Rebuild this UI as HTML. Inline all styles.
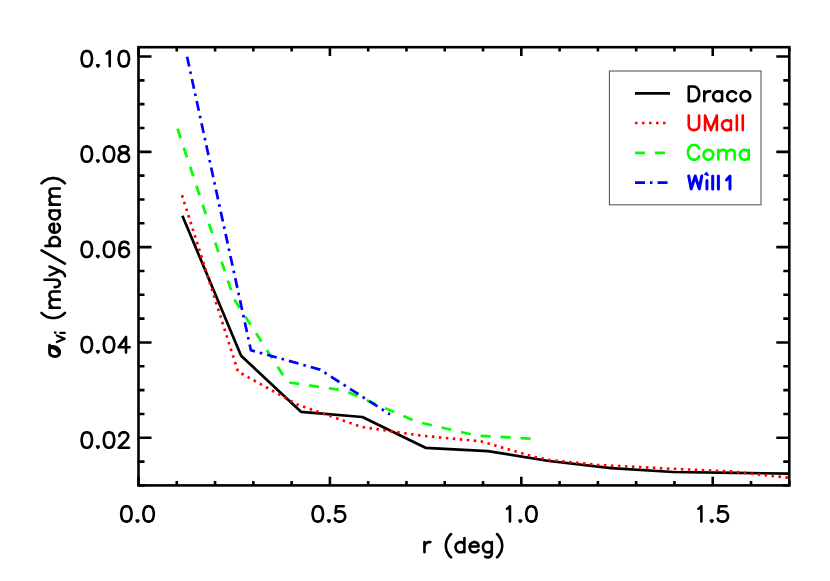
<!DOCTYPE html>
<html><head><meta charset="utf-8"><title>plot</title>
<style>html,body{margin:0;padding:0;background:#fff;font-family:"Liberation Sans",sans-serif;}svg{display:block}</style>
</head><body>
<svg width="830" height="581" viewBox="0 0 830 581">
<rect width="830" height="581" fill="#fff"/>
<path d="M138.50 485.40 V476.70 M138.50 47.20 V55.90 M176.78 485.40 V481.00 M176.78 47.20 V51.60 M215.06 485.40 V481.00 M215.06 47.20 V51.60 M253.35 485.40 V481.00 M253.35 47.20 V51.60 M291.63 485.40 V481.00 M291.63 47.20 V51.60 M329.91 485.40 V476.70 M329.91 47.20 V55.90 M368.19 485.40 V481.00 M368.19 47.20 V51.60 M406.48 485.40 V481.00 M406.48 47.20 V51.60 M444.76 485.40 V481.00 M444.76 47.20 V51.60 M483.04 485.40 V481.00 M483.04 47.20 V51.60 M521.32 485.40 V476.70 M521.32 47.20 V55.90 M559.61 485.40 V481.00 M559.61 47.20 V51.60 M597.89 485.40 V481.00 M597.89 47.20 V51.60 M636.17 485.40 V481.00 M636.17 47.20 V51.60 M674.45 485.40 V481.00 M674.45 47.20 V51.60 M712.74 485.40 V476.70 M712.74 47.20 V55.90 M751.02 485.40 V481.00 M751.02 47.20 V51.60 M789.30 485.40 V481.00 M789.30 47.20 V51.60 M138.50 485.46 H144.50 M789.30 485.46 H783.30 M138.50 461.63 H144.50 M789.30 461.63 H783.30 M138.50 437.80 H151.50 M789.30 437.80 H776.30 M138.50 413.97 H144.50 M789.30 413.97 H783.30 M138.50 390.14 H144.50 M789.30 390.14 H783.30 M138.50 366.31 H144.50 M789.30 366.31 H783.30 M138.50 342.48 H151.50 M789.30 342.48 H776.30 M138.50 318.64 H144.50 M789.30 318.64 H783.30 M138.50 294.81 H144.50 M789.30 294.81 H783.30 M138.50 270.98 H144.50 M789.30 270.98 H783.30 M138.50 247.15 H151.50 M789.30 247.15 H776.30 M138.50 223.32 H144.50 M789.30 223.32 H783.30 M138.50 199.49 H144.50 M789.30 199.49 H783.30 M138.50 175.66 H144.50 M789.30 175.66 H783.30 M138.50 151.83 H151.50 M789.30 151.83 H776.30 M138.50 127.99 H144.50 M789.30 127.99 H783.30 M138.50 104.16 H144.50 M789.30 104.16 H783.30 M138.50 80.33 H144.50 M789.30 80.33 H783.30 M138.50 56.50 H151.50 M789.30 56.50 H776.30" stroke="#000" stroke-width="2.6" fill="none"/>
<rect x="138.50" y="47.20" width="650.80" height="438.20" fill="none" stroke="#000" stroke-width="2.60"/>
<path d="M182.4 215.8 L241.1 355.7 L301.0 411.8 L362.4 417.0 L425.5 447.8 L487.7 451.1 L549.0 461.0 L611.0 468.1 L673.1 472.0 L735.0 472.9 L789.3 473.6" fill="none" stroke="#000" stroke-width="2.7" stroke-linejoin="round"/>
<path d="M182.0 195.2 L238.0 371.6 L297.3 404.5 L361.0 426.8 L421.0 435.6 L481.0 441.4 L534.9 457.0 L549.0 459.9 L597.0 464.9 L674.2 468.9 L731.0 471.4 L788.0 477.6" fill="none" stroke="#f00" stroke-width="2.7" stroke-linejoin="round" stroke-dasharray="2.5 4.5"/>
<path d="M177.5 128.8 L234.0 299.0 L287.7 382.3 L344.4 390.5 L415.8 421.5 L477.1 435.7 L531.1 438.6" fill="none" stroke="#0f0" stroke-width="2.7" stroke-linejoin="round" stroke-dasharray="10 10"/>
<path d="M187.0 56.5 L250.9 350.2 L320.0 369.6 L390.0 414.4" fill="none" stroke="#00f" stroke-width="2.7" stroke-linejoin="round" stroke-dasharray="10 5 2.55 5.1" stroke-dashoffset="-0.3"/>
<path d="M86.06 51.07 L83.84 51.80 L82.36 53.99 L81.62 57.64 L81.62 59.83 L82.36 63.48 L83.84 65.67 L86.06 66.40 L87.54 66.40 L89.76 65.67 L91.24 63.48 L91.98 59.83 L91.98 57.64 L91.24 53.99 L89.76 51.80 L87.54 51.07 L86.06 51.07 M97.09 65.31 L97.90 66.47 L98.71 65.31 L97.09 65.31 M106.78 53.55 L107.96 52.82 L109.74 51.07 L109.74 66.18 M123.06 51.07 L120.84 51.80 L119.36 53.99 L118.62 57.64 L118.62 59.83 L119.36 63.48 L120.84 65.67 L123.06 66.40 L124.54 66.40 L126.76 65.67 L128.24 63.48 L128.98 59.83 L128.98 57.64 L128.24 53.99 L126.76 51.80 L124.54 51.07 L123.06 51.07" fill="none" stroke="#000" stroke-width="2.60" stroke-linecap="round" stroke-linejoin="round"/>
<path d="M86.06 146.40 L83.84 147.13 L82.36 149.32 L81.62 152.97 L81.62 155.16 L82.36 158.81 L83.84 161.00 L86.06 161.73 L87.54 161.73 L89.76 161.00 L91.24 158.81 L91.98 155.16 L91.98 152.97 L91.24 149.32 L89.76 147.13 L87.54 146.40 L86.06 146.40 M97.09 160.63 L97.90 161.80 L98.71 160.63 L97.09 160.63 M108.26 146.40 L106.04 147.13 L104.56 149.32 L103.82 152.97 L103.82 155.16 L104.56 158.81 L106.04 161.00 L108.26 161.73 L109.74 161.73 L111.96 161.00 L113.44 158.81 L114.18 155.16 L114.18 152.97 L113.44 149.32 L111.96 147.13 L109.74 146.40 L108.26 146.40 M122.32 146.40 L120.10 147.13 L119.36 148.59 L119.36 150.05 L120.10 151.51 L121.58 152.24 L124.54 152.97 L126.76 153.70 L128.24 155.16 L128.98 156.62 L128.98 158.81 L128.24 160.27 L127.50 161.00 L125.28 161.73 L122.32 161.73 L120.10 161.00 L119.36 160.27 L118.62 158.81 L118.62 156.62 L119.36 155.16 L120.84 153.70 L123.06 152.97 L126.02 152.24 L127.50 151.51 L128.24 150.05 L128.24 148.59 L127.50 147.13 L125.28 146.40 L122.32 146.40" fill="none" stroke="#000" stroke-width="2.60" stroke-linecap="round" stroke-linejoin="round"/>
<path d="M86.06 241.72 L83.84 242.45 L82.36 244.64 L81.62 248.29 L81.62 250.48 L82.36 254.13 L83.84 256.32 L86.06 257.05 L87.54 257.05 L89.76 256.32 L91.24 254.13 L91.98 250.48 L91.98 248.29 L91.24 244.64 L89.76 242.45 L87.54 241.72 L86.06 241.72 M97.09 255.96 L97.90 257.12 L98.71 255.96 L97.09 255.96 M108.26 241.72 L106.04 242.45 L104.56 244.64 L103.82 248.29 L103.82 250.48 L104.56 254.13 L106.04 256.32 L108.26 257.05 L109.74 257.05 L111.96 256.32 L113.44 254.13 L114.18 250.48 L114.18 248.29 L113.44 244.64 L111.96 242.45 L109.74 241.72 L108.26 241.72 M128.24 243.91 L127.50 242.45 L125.28 241.72 L123.80 241.72 L121.58 242.45 L120.10 244.64 L119.36 248.29 L119.36 251.94 L120.10 254.86 L121.58 256.32 L123.80 257.05 L124.54 257.05 L126.76 256.32 L128.24 254.86 L128.98 252.67 L128.98 251.94 L128.24 249.75 L126.76 248.29 L124.54 247.56 L123.80 247.56 L121.58 248.29 L120.10 249.75 L119.36 251.94" fill="none" stroke="#000" stroke-width="2.60" stroke-linecap="round" stroke-linejoin="round"/>
<path d="M86.06 337.05 L83.84 337.77 L82.36 339.96 L81.62 343.62 L81.62 345.81 L82.36 349.45 L83.84 351.64 L86.06 352.38 L87.54 352.38 L89.76 351.64 L91.24 349.45 L91.98 345.81 L91.98 343.62 L91.24 339.96 L89.76 337.77 L87.54 337.05 L86.06 337.05 M97.09 351.28 L97.90 352.45 L98.71 351.28 L97.09 351.28 M108.26 337.05 L106.04 337.77 L104.56 339.96 L103.82 343.62 L103.82 345.81 L104.56 349.45 L106.04 351.64 L108.26 352.38 L109.74 352.38 L111.96 351.64 L113.44 349.45 L114.18 345.81 L114.18 343.62 L113.44 339.96 L111.96 337.77 L109.74 337.05 L108.26 337.05 M126.02 337.05 L118.62 347.26 L129.72 347.26 M126.02 337.05 L126.02 352.38" fill="none" stroke="#000" stroke-width="2.60" stroke-linecap="round" stroke-linejoin="round"/>
<path d="M86.06 432.37 L83.84 433.10 L82.36 435.29 L81.62 438.94 L81.62 441.13 L82.36 444.78 L83.84 446.97 L86.06 447.70 L87.54 447.70 L89.76 446.97 L91.24 444.78 L91.98 441.13 L91.98 438.94 L91.24 435.29 L89.76 433.10 L87.54 432.37 L86.06 432.37 M97.09 446.60 L97.90 447.77 L98.71 446.60 L97.09 446.60 M108.26 432.37 L106.04 433.10 L104.56 435.29 L103.82 438.94 L103.82 441.13 L104.56 444.78 L106.04 446.97 L108.26 447.70 L109.74 447.70 L111.96 446.97 L113.44 444.78 L114.18 441.13 L114.18 438.94 L113.44 435.29 L111.96 433.10 L109.74 432.37 L108.26 432.37 M119.36 436.02 L119.36 435.29 L120.10 433.83 L120.84 433.10 L122.32 432.37 L125.28 432.37 L126.76 433.10 L127.50 433.83 L128.24 435.29 L128.24 436.75 L127.50 438.21 L126.02 440.40 L118.62 447.70 L128.98 447.70" fill="none" stroke="#000" stroke-width="2.60" stroke-linecap="round" stroke-linejoin="round"/>
<path d="M125.66 506.27 L123.44 507.00 L121.96 509.19 L121.22 512.84 L121.22 515.03 L121.96 518.68 L123.44 520.87 L125.66 521.60 L127.14 521.60 L129.36 520.87 L130.84 518.68 L131.58 515.03 L131.58 512.84 L130.84 509.19 L129.36 507.00 L127.14 506.27 L125.66 506.27 M136.69 520.50 L137.50 521.67 L138.31 520.50 L136.69 520.50 M147.86 506.27 L145.64 507.00 L144.16 509.19 L143.42 512.84 L143.42 515.03 L144.16 518.68 L145.64 520.87 L147.86 521.60 L149.34 521.60 L151.56 520.87 L153.04 518.68 L153.78 515.03 L153.78 512.84 L153.04 509.19 L151.56 507.00 L149.34 506.27 L147.86 506.27" fill="none" stroke="#000" stroke-width="2.60" stroke-linecap="round" stroke-linejoin="round"/>
<path d="M317.07 506.27 L314.85 507.00 L313.37 509.19 L312.63 512.84 L312.63 515.03 L313.37 518.68 L314.85 520.87 L317.07 521.60 L318.55 521.60 L320.77 520.87 L322.25 518.68 L322.99 515.03 L322.99 512.84 L322.25 509.19 L320.77 507.00 L318.55 506.27 L317.07 506.27 M328.10 520.50 L328.91 521.67 L329.73 520.50 L328.10 520.50 M343.71 506.27 L336.31 506.27 L335.57 512.84 L336.31 512.11 L338.53 511.38 L340.75 511.38 L342.97 512.11 L344.45 513.57 L345.19 515.76 L345.19 517.22 L344.45 519.41 L342.97 520.87 L340.75 521.60 L338.53 521.60 L336.31 520.87 L335.57 520.14 L334.83 518.68" fill="none" stroke="#000" stroke-width="2.60" stroke-linecap="round" stroke-linejoin="round"/>
<path d="M507.00 508.75 L508.19 508.02 L509.96 506.27 L509.96 521.38 M519.51 520.50 L520.32 521.67 L521.14 520.50 L519.51 520.50 M530.68 506.27 L528.46 507.00 L526.98 509.19 L526.24 512.84 L526.24 515.03 L526.98 518.68 L528.46 520.87 L530.68 521.60 L532.16 521.60 L534.38 520.87 L535.86 518.68 L536.60 515.03 L536.60 512.84 L535.86 509.19 L534.38 507.00 L532.16 506.27 L530.68 506.27" fill="none" stroke="#000" stroke-width="2.60" stroke-linecap="round" stroke-linejoin="round"/>
<path d="M698.42 508.75 L699.60 508.02 L701.38 506.27 L701.38 521.38 M710.92 520.50 L711.74 521.67 L712.55 520.50 L710.92 520.50 M726.54 506.27 L719.14 506.27 L718.40 512.84 L719.14 512.11 L721.36 511.38 L723.58 511.38 L725.80 512.11 L727.28 513.57 L728.02 515.76 L728.02 517.22 L727.28 519.41 L725.80 520.87 L723.58 521.60 L721.36 521.60 L719.14 520.87 L718.40 520.14 L717.66 518.68" fill="none" stroke="#000" stroke-width="2.60" stroke-linecap="round" stroke-linejoin="round"/>
<path d="M424.45 542.08 L424.45 552.30 M424.45 546.46 L425.19 544.27 L426.67 542.81 L428.15 542.08 L430.37 542.08 M451.09 534.05 L449.61 535.51 L448.13 537.70 L446.65 540.62 L445.91 544.27 L445.91 547.19 L446.65 550.84 L448.13 553.76 L449.61 555.95 L451.09 557.41 M464.41 537.99 L464.41 552.30 M464.41 544.27 L462.93 542.81 L461.45 542.08 L459.23 542.08 L457.75 542.81 L456.27 544.27 L455.53 546.46 L455.53 547.92 L456.27 550.11 L457.75 551.57 L459.23 552.30 L461.45 552.30 L462.93 551.57 L464.41 550.11 M469.59 546.46 L478.47 546.46 L478.47 545.00 L477.73 543.54 L476.99 542.81 L475.51 542.08 L473.29 542.08 L471.81 542.81 L470.33 544.27 L469.59 546.46 L469.59 547.92 L470.33 550.11 L471.81 551.57 L473.29 552.30 L475.51 552.30 L476.99 551.57 L478.47 550.11 M491.79 542.08 L491.79 553.76 L491.05 555.95 L490.31 556.68 L488.83 557.41 L486.61 557.41 L485.13 556.68 M491.79 544.27 L490.31 542.81 L488.83 542.08 L486.61 542.08 L485.13 542.81 L483.65 544.27 L482.91 546.46 L482.91 547.92 L483.65 550.11 L485.13 551.57 L486.61 552.30 L488.83 552.30 L490.31 551.57 L491.79 550.11 M496.97 534.05 L498.45 535.51 L499.93 537.70 L501.41 540.62 L502.15 544.27 L502.15 547.19 L501.41 550.84 L499.93 553.76 L498.45 555.95 L496.97 557.41" fill="none" stroke="#000" stroke-width="2.60" stroke-linecap="round" stroke-linejoin="round"/>
<path d="M49.6 345.2 L49.6 352.4 C49.6 354 50.2 354.7 51.05 355.25 C52 356.1 53.3 356.5 54.55 356.53 C56 356.5 57.2 356.2 58.06 355.57 C59.2 354.6 59.65 353.6 59.65 352.39 C59.65 350.9 59.2 349.5 58.06 348.57 C56.8 347.2 55 346.4 53.28 346.34 L49.6 346.1" fill="none" stroke="#000" stroke-width="2.9" stroke-linecap="round" stroke-linejoin="round"/>
<path d="M50.6 347.9 C53.2 348.0 56.2 349.0 57.8 351.6" fill="none" stroke="#000" stroke-width="2.4" stroke-linecap="round"/>
<path d="M56.8 342.1 L64.75 338.7 L56.8 335.5 M64.75 332.95 L60.3 332.95" fill="none" stroke="#000" stroke-width="2.2" stroke-linecap="round" stroke-linejoin="round"/>
<path d="M55.2 332.6 L55.3 332.6" fill="none" stroke="#000" stroke-width="2.6" stroke-linecap="round"/>
<path d="M41.55 312.90 L43.01 314.37 L45.20 315.85 L48.12 317.32 L51.77 318.05 L54.69 318.05 L58.34 317.32 L61.26 315.85 L63.45 314.37 L64.91 312.90 M49.58 307.75 L59.80 307.75 M52.50 307.75 L50.31 305.54 L49.58 304.07 L49.58 301.86 L50.31 300.38 L52.50 299.65 L59.80 299.65 M52.50 299.65 L50.31 297.44 L49.58 295.97 L49.58 293.76 L50.31 292.28 L52.50 291.55 L59.80 291.55 M44.47 279.77 L56.15 279.77 L58.34 280.50 L59.07 281.24 L59.80 282.71 L59.80 284.19 L59.07 285.66 L58.34 286.39 L56.15 287.13 L54.69 287.13 M49.58 275.35 L59.80 270.93 M49.58 266.51 L59.80 270.93 L62.72 272.40 L64.18 273.88 L64.91 275.35 L64.91 276.09 M41.55 250.32 L64.91 263.57 M45.49 245.90 L59.80 245.90 M51.77 245.90 L50.31 244.42 L49.58 242.95 L49.58 240.74 L50.31 239.27 L51.77 237.80 L53.96 237.06 L55.42 237.06 L57.61 237.80 L59.07 239.27 L59.80 240.74 L59.80 242.95 L59.07 244.42 L57.61 245.90 M53.96 232.64 L53.96 223.81 L52.50 223.81 L51.04 224.54 L50.31 225.28 L49.58 226.75 L49.58 228.96 L50.31 230.44 L51.77 231.91 L53.96 232.64 L55.42 232.64 L57.61 231.91 L59.07 230.44 L59.80 228.96 L59.80 226.75 L59.07 225.28 L57.61 223.81 M49.58 210.56 L59.80 210.56 M51.77 210.56 L50.31 212.03 L49.58 213.50 L49.58 215.71 L50.31 217.18 L51.77 218.65 L53.96 219.39 L55.42 219.39 L57.61 218.65 L59.07 217.18 L59.80 215.71 L59.80 213.50 L59.07 212.03 L57.61 210.56 M49.58 204.66 L59.80 204.66 M52.50 204.66 L50.31 202.46 L49.58 200.98 L49.58 198.77 L50.31 197.30 L52.50 196.57 L59.80 196.57 M52.50 196.57 L50.31 194.36 L49.58 192.88 L49.58 190.67 L50.31 189.20 L52.50 188.47 L59.80 188.47 M41.55 183.31 L43.01 181.84 L45.20 180.37 L48.12 178.89 L51.77 178.16 L54.69 178.16 L58.34 178.89 L61.26 180.37 L63.45 181.84 L64.91 183.31" fill="none" stroke="#000" stroke-width="2.60" stroke-linecap="round" stroke-linejoin="round"/>
<rect x="609.4" y="71.0" width="151.6" height="133.8" fill="#fff" stroke="#4a4a4a" stroke-width="1.0"/>
<path d="M635.0 93.3 L670.0 93.3" fill="none" stroke="#000" stroke-width="2.7" stroke-linejoin="round"/>
<path d="M688.76 86.50 L688.76 101.10 M688.76 86.50 L693.94 86.50 L696.16 87.20 L697.64 88.59 L698.38 89.98 L699.12 92.06 L699.12 95.54 L698.38 97.62 L697.64 99.02 L696.16 100.41 L693.94 101.10 L688.76 101.10 M704.30 91.37 L704.30 101.10 M704.30 95.54 L705.04 93.45 L706.52 92.06 L708.00 91.37 L710.22 91.37 M722.06 91.37 L722.06 101.10 M722.06 93.45 L720.58 92.06 L719.10 91.37 L716.88 91.37 L715.40 92.06 L713.92 93.45 L713.18 95.54 L713.18 96.93 L713.92 99.02 L715.40 100.41 L716.88 101.10 L719.10 101.10 L720.58 100.41 L722.06 99.02 M736.12 93.45 L734.64 92.06 L733.16 91.37 L730.94 91.37 L729.46 92.06 L727.98 93.45 L727.24 95.54 L727.24 96.93 L727.98 99.02 L729.46 100.41 L730.94 101.10 L733.16 101.10 L734.64 100.41 L736.12 99.02 M744.26 91.37 L742.78 92.06 L741.30 93.45 L740.56 95.54 L740.56 96.93 L741.30 99.02 L742.78 100.41 L744.26 101.10 L746.48 101.10 L747.96 100.41 L749.44 99.02 L750.18 96.93 L750.18 95.54 L749.44 93.45 L747.96 92.06 L746.48 91.37 L744.26 91.37" fill="none" stroke="#000" stroke-width="2.60" stroke-linecap="round" stroke-linejoin="round"/>
<path d="M635.0 123.0 L670.0 123.0" fill="none" stroke="#f00" stroke-width="2.7" stroke-linejoin="round" stroke-dasharray="2.5 4.5"/>
<path d="M688.76 115.50 L688.76 125.93 L689.50 128.01 L690.98 129.41 L693.20 130.10 L694.68 130.10 L696.90 129.41 L698.38 128.01 L699.12 125.93 L699.12 115.50 M705.04 115.50 L705.04 130.10 M705.04 115.50 L710.96 130.10 M716.88 115.50 L710.96 130.10 M716.88 115.50 L716.88 130.10 M730.94 120.37 L730.94 130.10 M730.94 122.45 L729.46 121.06 L727.98 120.37 L725.76 120.37 L724.28 121.06 L722.80 122.45 L722.06 124.54 L722.06 125.93 L722.80 128.01 L724.28 129.41 L725.76 130.10 L727.98 130.10 L729.46 129.41 L730.94 128.01 M736.86 115.50 L736.86 130.10 M742.78 115.50 L742.78 130.10" fill="none" stroke="#f00" stroke-width="2.60" stroke-linecap="round" stroke-linejoin="round"/>
<path d="M635.0 152.9 L670.0 152.9" fill="none" stroke="#0f0" stroke-width="2.7" stroke-linejoin="round" stroke-dasharray="10 10"/>
<path d="M699.12 148.48 L698.38 147.09 L696.90 145.70 L695.42 145.00 L692.46 145.00 L690.98 145.70 L689.50 147.09 L688.76 148.48 L688.02 150.56 L688.02 154.04 L688.76 156.12 L689.50 157.51 L690.98 158.91 L692.46 159.60 L695.42 159.60 L696.90 158.91 L698.38 157.51 L699.12 156.12 M707.26 149.87 L705.78 150.56 L704.30 151.95 L703.56 154.04 L703.56 155.43 L704.30 157.51 L705.78 158.91 L707.26 159.60 L709.48 159.60 L710.96 158.91 L712.44 157.51 L713.18 155.43 L713.18 154.04 L712.44 151.95 L710.96 150.56 L709.48 149.87 L707.26 149.87 M718.36 149.87 L718.36 159.60 M718.36 152.65 L720.58 150.56 L722.06 149.87 L724.28 149.87 L725.76 150.56 L726.50 152.65 L726.50 159.60 M726.50 152.65 L728.72 150.56 L730.20 149.87 L732.42 149.87 L733.90 150.56 L734.64 152.65 L734.64 159.60 M748.70 149.87 L748.70 159.60 M748.70 151.95 L747.22 150.56 L745.74 149.87 L743.52 149.87 L742.04 150.56 L740.56 151.95 L739.82 154.04 L739.82 155.43 L740.56 157.51 L742.04 158.91 L743.52 159.60 L745.74 159.60 L747.22 158.91 L748.70 157.51" fill="none" stroke="#0f0" stroke-width="2.60" stroke-linecap="round" stroke-linejoin="round"/>
<path d="M635.0 182.6 L670.0 182.6" fill="none" stroke="#00f" stroke-width="2.7" stroke-linejoin="round" stroke-dasharray="10 5 2.5 5"/>
<path d="M688.71 176.00 L691.23 188.90 L695.22 176.00 L699.29 188.90 L701.81 176.00 M706.92 188.90 V180.60 M712.69 188.90 V176.00 M718.39 188.90 V176.00 M726.45 179.90 L730.00 176.00 V188.90" fill="none" stroke="#00f" stroke-width="3.0" stroke-linecap="round" stroke-linejoin="round"/>
<path d="M706.60 172.60 l-1.7 1.8 l3.2 0.9 z" fill="#00f" stroke="#00f" stroke-width="1.5" stroke-linejoin="round"/>
</svg>
</body></html>
